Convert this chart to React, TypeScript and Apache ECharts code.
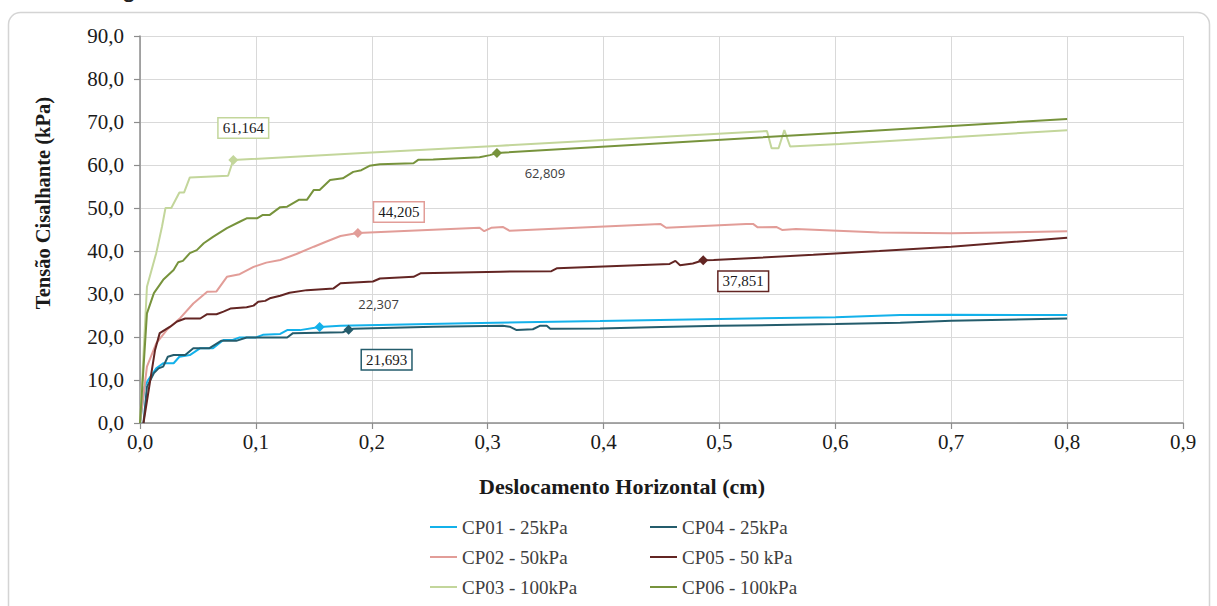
import React, { useEffect, useRef } from "react";
import * as echarts from "echarts";

const xTicks = [0, 0.1, 0.2, 0.3, 0.4, 0.5, 0.6, 0.7, 0.8, 0.9];
const yTicks = [0, 10, 20, 30, 40, 50, 60, 70, 80, 90];

const seriesNames = [
  "CP01 - 25kPa",
  "CP02 - 50kPa",
  "CP03 - 100kPa",
  "CP04 - 25kPa",
  "CP05 - 50 kPa",
  "CP06 - 100kPa",
];
const seriesColors = ["#13b1ea", "#e29d98", "#c3d69b", "#245c6c", "#632523", "#77933c"];

const cp01 = [
  [0, 0], [0.004, 8.4], [0.007, 10], [0.014, 12.7], [0.02, 13.9], [0.029, 13.9], [0.034, 15.4],
  [0.043, 15.8], [0.052, 17.4], [0.063, 17.4], [0.072, 19.3], [0.08, 19.3], [0.086, 19.9],
  [0.1, 19.9], [0.106, 20.5], [0.121, 20.7], [0.127, 21.6], [0.138, 21.6], [0.155, 22.307],
  [0.173, 22.6], [0.282, 23.2], [0.397, 23.7], [0.5, 24.2], [0.6, 24.6], [0.656, 25.1],
  [0.7, 25.2], [0.8, 25.1],
];
const cp04 = [
  [0.003, 0], [0.006, 8.4], [0.012, 11.6], [0.016, 12.7], [0.02, 13.1], [0.024, 15.4],
  [0.029, 15.8], [0.039, 15.8], [0.046, 17.4], [0.06, 17.4], [0.07, 19.1], [0.083, 19.1],
  [0.092, 19.9], [0.127, 19.9], [0.132, 20.9], [0.175, 21.1], [0.18, 21.693], [0.184, 21.9],
  [0.253, 22.4], [0.313, 22.6], [0.319, 22.4], [0.325, 21.6], [0.339, 21.8], [0.345, 22.6],
  [0.351, 22.6], [0.354, 21.9], [0.397, 22.0], [0.45, 22.3], [0.5, 22.6], [0.6, 23.0],
  [0.656, 23.3], [0.7, 23.8], [0.8, 24.3],
];
const cp02 = [
  [0, 0], [0.006, 13.1], [0.014, 18.5], [0.023, 21.6], [0.035, 24.5], [0.046, 27.8],
  [0.058, 30.5], [0.066, 30.6], [0.075, 34.0], [0.086, 34.6], [0.098, 36.3], [0.109, 37.3],
  [0.121, 37.9], [0.135, 39.3], [0.15, 41.0], [0.161, 42.2], [0.173, 43.5], [0.188, 44.205],
  [0.293, 45.4], [0.297, 44.6], [0.303, 45.4], [0.313, 45.6], [0.319, 44.7], [0.449, 46.3],
  [0.454, 45.4], [0.523, 46.3], [0.529, 46.3], [0.533, 45.5], [0.549, 45.6], [0.554, 44.9],
  [0.566, 45.1], [0.638, 44.3], [0.7, 44.1], [0.8, 44.6],
];
const cp05 = [
  [0.003, 0], [0.013, 17], [0.017, 20.9], [0.026, 22.4], [0.032, 23.6], [0.039, 24.3],
  [0.052, 24.3], [0.058, 25.3], [0.066, 25.3], [0.072, 25.9], [0.078, 26.6], [0.092, 26.9],
  [0.098, 27.3], [0.102, 28.2], [0.108, 28.4], [0.112, 29.0], [0.121, 29.6], [0.129, 30.3],
  [0.144, 30.9], [0.167, 31.3], [0.173, 32.5], [0.201, 32.9], [0.207, 33.6], [0.236, 34.0],
  [0.242, 34.8], [0.311, 35.2], [0.355, 35.3], [0.36, 36.0], [0.457, 37.0], [0.462, 37.7],
  [0.466, 36.7], [0.477, 37.1], [0.486, 37.851], [0.495, 37.9], [0.581, 39.1], [0.638, 40.0],
  [0.7, 41.0], [0.8, 43.1],
];
const cp03 = [
  [0, 0], [0.006, 31.7], [0.014, 39.5], [0.019, 45.7], [0.022, 50.0], [0.027, 50.0],
  [0.034, 53.6], [0.038, 53.6], [0.043, 57.1], [0.076, 57.5], [0.0805, 61.164], [0.2, 62.9],
  [0.311, 64.5], [0.541, 67.9], [0.545, 63.9], [0.551, 63.9], [0.556, 68.1], [0.561, 64.3],
  [0.604, 64.9], [0.8, 68.1],
];
const cp06 = [
  [0, 0], [0.006, 25.5], [0.012, 30.2], [0.02, 33.3], [0.029, 35.6], [0.033, 37.4],
  [0.037, 37.7], [0.043, 39.5], [0.049, 40.2], [0.055, 41.8], [0.063, 43.3], [0.075, 45.3],
  [0.086, 46.8], [0.092, 47.6], [0.101, 47.6], [0.106, 48.4], [0.112, 48.4], [0.121, 50.2],
  [0.127, 50.3], [0.137, 51.9], [0.144, 51.9], [0.15, 54.2], [0.155, 54.2], [0.164, 56.5],
  [0.175, 56.9], [0.184, 58.4], [0.191, 58.8], [0.198, 59.8], [0.207, 60.2], [0.236, 60.4],
  [0.24, 61.2], [0.253, 61.3], [0.293, 61.8], [0.302, 62.3], [0.308, 62.809], [0.604, 67.5],
  [0.8, 70.7],
];
const seriesData = [cp01, cp02, cp03, cp04, cp05, cp06];

// highlighted points: [x, y] and their label text
const markerPoints = [
  [0.155, 22.307],
  [0.188, 44.205],
  [0.0805, 61.164],
  [0.18, 21.693],
  [0.486, 37.851],
  [0.308, 62.809],
];
const markerLabels = ["22,307", "44,205", "61,164", "21,693", "37,851", "62,809"];
const markerBoxed = [false, true, true, true, true, false];
const markerOffsets = [
  [59, -23],
  [41, -21],
  [10, -32],
  [38, 30],
  [40, 21],
  [48, 20],
];

const SERIF = "Liberation Serif";
const SANS = "Open Sans";
const fmt = (v: number) => v.toFixed(1).replace(".", ",");

export default function App() {
  const ref = useRef<HTMLDivElement>(null);
  useEffect(() => {
    if (!ref.current) return;
    const chart = echarts.init(ref.current, undefined, { renderer: "svg" });
    const series = seriesNames.map((name, i) => ({
      name,
      type: "line",
      data: seriesData[i],
      symbol: "none",
      lineStyle: { color: seriesColors[i], width: 2 },
      itemStyle: { color: seriesColors[i] },
      z: i < 3 ? 2 : 3,
      markPoint: {
        symbol: "diamond",
        symbolSize: 10,
        itemStyle: { color: seriesColors[i] },
        data: [
          {
            coord: markerPoints[i],
            label: {
              show: true,
              position: "inside",
              offset: markerOffsets[i],
              formatter: markerLabels[i],
              fontFamily: markerBoxed[i] ? SERIF : SANS,
              fontSize: markerBoxed[i] ? 15 : 13,
              color: markerBoxed[i] ? "#1a1a1a" : "#404040",
              backgroundColor: markerBoxed[i] ? "#ffffff" : "transparent",
              borderColor: markerBoxed[i] ? seriesColors[i] : "transparent",
              borderWidth: markerBoxed[i] ? 1.5 : 0,
              padding: markerBoxed[i] ? [3, 4, 1, 4] : 0,
            },
          },
        ],
      },
    }));

    const legendLefts = [425, 425, 425, 645, 645, 645];
    const legendTops = [512, 542, 572, 512, 542, 572];
    const legends = seriesNames.map((name, i) => ({
      left: legendLefts[i],
      top: legendTops[i],
      icon: "rect",
      itemWidth: 27,
      itemHeight: 2,
      data: [name],
      textStyle: { fontFamily: SERIF, fontSize: 19, color: "#404040", lineHeight: 20 },
    }));

    const tickRich = { s: { fontFamily: SERIF, fontSize: 21, color: "#1a1a1a" } };

    chart.setOption({
      animation: false,
      backgroundColor: "#ffffff",
      textStyle: { fontFamily: SERIF },
      grid: { left: 140, right: 34, top: 36, bottom: 183 },
      xAxis: {
        type: "value",
        min: xTicks[0],
        max: xTicks[xTicks.length - 1],
        interval: 0.1,
        axisLine: { show: true, lineStyle: { color: "#8c8c8c", width: 1.5 } },
        axisTick: { show: true, length: 6, lineStyle: { color: "#8c8c8c", width: 1.2 } },
        axisLabel: {
          formatter: (v: number) => `{s|${fmt(v)}}`,
          rich: tickRich,
          fontFamily: SERIF,
          fontSize: 21,
          color: "#1a1a1a",
          margin: 8,
        },
        splitLine: { show: true, lineStyle: { color: "#d9d9d9", width: 1 } },
      },
      yAxis: {
        type: "value",
        min: yTicks[0],
        max: yTicks[yTicks.length - 1],
        interval: 10,
        axisLine: { show: true, lineStyle: { color: "#8c8c8c", width: 1.5 } },
        axisTick: { show: true, length: 6, lineStyle: { color: "#8c8c8c", width: 1.2 } },
        axisLabel: {
          formatter: (v: number) => `{s|${fmt(v)}}`,
          rich: tickRich,
          fontFamily: SERIF,
          fontSize: 21,
          color: "#1a1a1a",
          margin: 16,
        },
        splitLine: { show: true, lineStyle: { color: "#d9d9d9", width: 1 } },
      },
      legend: legends,
      graphic: [
        {
          type: "rect",
          shape: { x: 8.5, y: 12.5, width: 1201, height: 640, r: 12 },
          style: { fill: "none", stroke: "#d4d4d4", lineWidth: 1.5 },
          silent: true,
          z: -10,
        },
        {
          type: "text",
          x: 129,
          y: -12,
          style: {
            text: "g",
            fontFamily: "Liberation Sans",
            fontSize: 26,
            fill: "#222",
            align: "center",
            verticalAlign: "middle",
          },
        },
        {
          type: "text",
          x: 43,
          y: 203,
          rotation: Math.PI / 2,
          style: {
            text: "Tensão Cisalhante (kPa)",
            fontFamily: SERIF,
            fontWeight: "bold",
            fontSize: 20.5,
            fill: "#1a1a1a",
            align: "center",
            verticalAlign: "middle",
          },
        },
        {
          type: "text",
          x: 622,
          y: 486,
          style: {
            text: "Deslocamento Horizontal (cm)",
            fontFamily: SERIF,
            fontWeight: "bold",
            fontSize: 22,
            fill: "#1a1a1a",
            align: "center",
            verticalAlign: "middle",
          },
        },
      ],
      series,
    });
    return () => chart.dispose();
  }, []);
  return (
    <div
      ref={ref}
      style={{ position: "fixed", left: 0, top: 0, width: 1217, height: 606, background: "#fff" }}
    />
  );
}
